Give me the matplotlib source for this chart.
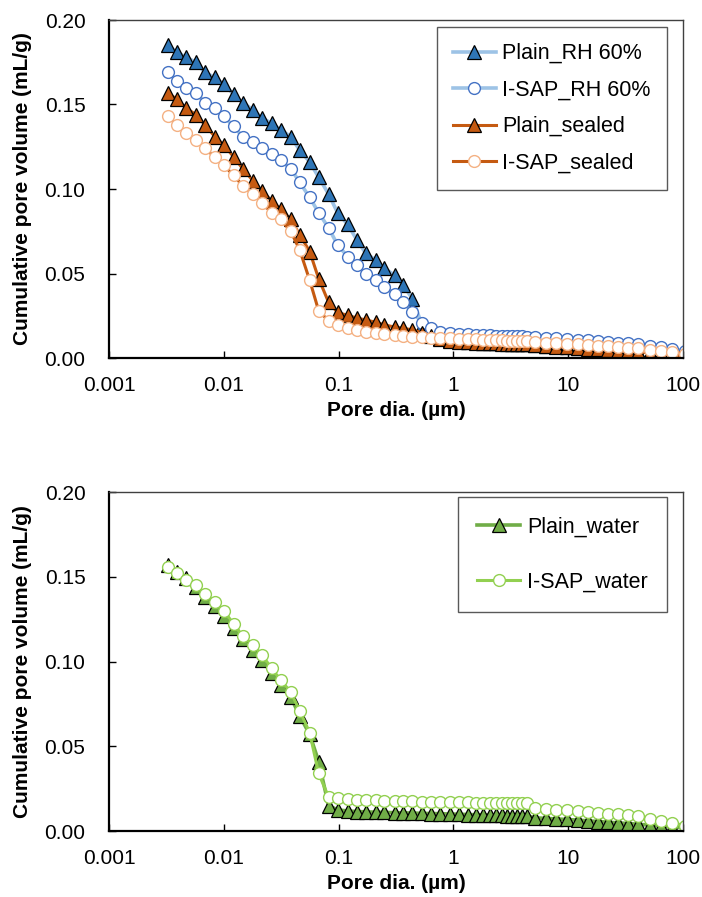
import matplotlib
matplotlib.use("Agg")
import matplotlib.pyplot as plt
from matplotlib.ticker import FixedLocator, FixedFormatter, NullLocator

plt.rcParams['font.family'] = ['Liberation Sans', 'DejaVu Sans']

# ---------------- data ----------------
pore_dia = [0.00326, 0.0039, 0.00468, 0.00572, 0.00684, 0.00836, 0.0100, 0.0122, 0.0146, 0.0179,
            0.0214, 0.0261, 0.0313, 0.0383, 0.0458, 0.0560, 0.0670, 0.0818, 0.0979, 0.120,
            0.144, 0.172, 0.210, 0.251, 0.307, 0.367, 0.440, 0.537, 0.644, 0.771,
            0.942, 1.13, 1.35, 1.58, 1.82, 2.10, 2.37, 2.67, 2.95, 3.26,
            3.60, 3.98, 4.40, 5.16, 6.44, 7.87, 9.80, 12.2, 14.9, 18.2,
            22.3, 27.2, 33.3, 40.6, 51.6, 64.4, 80.2, 105]

plain_rh60 = [0.185, 0.181, 0.178, 0.175, 0.169, 0.166, 0.162, 0.156, 0.151, 0.147,
              0.142, 0.139, 0.135, 0.131, 0.123, 0.116, 0.107, 0.097, 0.086, 0.079,
              0.070, 0.062, 0.058, 0.053, 0.049, 0.043, 0.035, 0.019, 0.0145, 0.012,
              0.0105, 0.0098, 0.0094, 0.0092, 0.0090, 0.0089, 0.0088, 0.0087, 0.0086, 0.0085,
              0.0084, 0.0083, 0.0082, 0.0076, 0.0072, 0.0069, 0.0066, 0.0062, 0.0058, 0.0054,
              0.0050, 0.0046, 0.0042, 0.0038, 0.0032, 0.0026, 0.0020, 0.0014]

isap_rh60 = [0.169, 0.164, 0.160, 0.157, 0.151, 0.148, 0.143, 0.137, 0.131, 0.128,
             0.124, 0.121, 0.117, 0.112, 0.104, 0.095, 0.086, 0.077, 0.067, 0.060,
             0.055, 0.050, 0.046, 0.042, 0.038, 0.033, 0.027, 0.021, 0.018, 0.0155,
             0.0148, 0.0142, 0.0140, 0.0138, 0.0136, 0.0134, 0.0133, 0.0132, 0.0131, 0.0130,
             0.0129, 0.0128, 0.0127, 0.0124, 0.0120, 0.0116, 0.0112, 0.0108, 0.0104, 0.0100,
             0.0096, 0.0091, 0.0086, 0.0081, 0.0072, 0.0063, 0.0055, 0.0040]

plain_sealed = [0.157, 0.153, 0.148, 0.144, 0.138, 0.131, 0.126, 0.119, 0.112, 0.105,
                0.099, 0.093, 0.088, 0.082, 0.073, 0.063, 0.047, 0.033, 0.027, 0.0252,
                0.0237, 0.0225, 0.0212, 0.0196, 0.0183, 0.0176, 0.0166, 0.0150, 0.0130, 0.0115,
                0.0100, 0.0095, 0.0092, 0.0090, 0.0088, 0.0087, 0.0086, 0.0085, 0.0084, 0.0083,
                0.0082, 0.0081, 0.0080, 0.0074, 0.0070, 0.0067, 0.0064, 0.0060, 0.0056, 0.0052,
                0.0048, 0.0044, 0.0040, 0.0036, 0.0030, 0.0024, 0.0018, 0.0012]

isap_sealed = [0.143, 0.138, 0.133, 0.129, 0.124, 0.119, 0.114, 0.108, 0.102, 0.097,
               0.092, 0.086, 0.082, 0.075, 0.064, 0.046, 0.028, 0.022, 0.0195, 0.0178,
               0.0166, 0.0155, 0.0148, 0.0140, 0.0135, 0.0130, 0.0125, 0.0122, 0.0120, 0.0118,
               0.0116, 0.0114, 0.0112, 0.0110, 0.0108, 0.0106, 0.0105, 0.0104, 0.0103, 0.0102,
               0.0101, 0.0100, 0.0099, 0.0095, 0.0091, 0.0088, 0.0085, 0.0081, 0.0077, 0.0073,
               0.0070, 0.0066, 0.0062, 0.0058, 0.0050, 0.0043, 0.0037, 0.0025]

plain_water = [0.157, 0.153, 0.149, 0.144, 0.138, 0.133, 0.127, 0.120, 0.113, 0.107,
               0.101, 0.093, 0.086, 0.079, 0.068, 0.057, 0.041, 0.015, 0.0125, 0.0118,
               0.0115, 0.0113, 0.0111, 0.0110, 0.0108, 0.0107, 0.0106, 0.0104, 0.0103, 0.0102,
               0.0100, 0.0099, 0.0097, 0.0096, 0.0095, 0.0094, 0.0093, 0.0092, 0.0091, 0.0090,
               0.0089, 0.0088, 0.0088, 0.0078, 0.0074, 0.0071, 0.0068, 0.0064, 0.0060, 0.0056,
               0.0052, 0.0048, 0.0044, 0.0040, 0.0034, 0.0029, 0.0024, 0.0018]

isap_water = [0.156, 0.152, 0.148, 0.145, 0.140, 0.135, 0.130, 0.122, 0.115, 0.110,
              0.104, 0.096, 0.089, 0.082, 0.071, 0.058, 0.034, 0.020, 0.0192, 0.0187,
              0.0184, 0.0182, 0.0180, 0.0178, 0.0177, 0.0176, 0.0175, 0.0174, 0.0173, 0.0172,
              0.0171, 0.0170, 0.0169, 0.0168, 0.0167, 0.0167, 0.0166, 0.0166, 0.0165, 0.0165,
              0.0164, 0.0164, 0.0163, 0.0135, 0.0128, 0.0125, 0.0122, 0.0117, 0.0112, 0.0108,
              0.0103, 0.0098, 0.0093, 0.0088, 0.0072, 0.0060, 0.0050, 0.0030]

x_ticks = [0.001, 0.01, 0.1, 1, 10, 100]
x_ticklabels = ["0.001", "0.01", "0.1", "1", "10", "100"]
y_ticks = [0.00, 0.05, 0.10, 0.15, 0.20]
y_ticklabels = ["0.00", "0.05", "0.10", "0.15", "0.20"]

# ---------------- figure ----------------
W, H = 702, 897
fig = plt.figure(figsize=(W / 100, H / 100), dpi=100)

def axes_px(left, top, right, bottom):
    return fig.add_axes([left / W, 1 - bottom / H, (right - left) / W, (bottom - top) / H])

ax1 = axes_px(109, 20, 683, 358)
ax2 = axes_px(109, 492, 683, 831)

FS = 15

def style(ax):
    ax.set_xscale('log')
    ax.set_xlim(0.001, 100)
    ax.set_ylim(0, 0.20)
    ax.xaxis.set_major_locator(FixedLocator(x_ticks))
    ax.xaxis.set_major_formatter(FixedFormatter(x_ticklabels))
    ax.xaxis.set_minor_locator(NullLocator())
    ax.yaxis.set_major_locator(FixedLocator(y_ticks))
    ax.yaxis.set_major_formatter(FixedFormatter(y_ticklabels))
    ax.tick_params(axis='both', direction='in', length=5, width=1.0, labelsize=FS,
                   colors='black')
    ax.tick_params(axis='x', pad=13)
    ax.tick_params(axis='y', pad=17)
    for s in ['left', 'bottom']:
        ax.spines[s].set_linewidth(1.6)
        ax.spines[s].set_color('black')
    for s in ['top', 'right']:
        ax.spines[s].set_linewidth(1.0)
        ax.spines[s].set_color('#404040')
    ax.set_xlabel('Pore dia. (µm)', fontsize=FS, fontweight='bold', labelpad=4)
    ax.set_ylabel('Cumulative pore volume (mL/g)', fontsize=FS, fontweight='bold', labelpad=9)

tri_kw = dict(marker='^', markersize=10, markeredgecolor='black', markeredgewidth=0.9)
cir_kw = dict(marker='o', markersize=8.5, markerfacecolor='white', markeredgewidth=1.0)

ax1.plot(pore_dia, plain_rh60, color='#9DC3E6', linewidth=2.6,
         markerfacecolor='#2E75B6', label='Plain_RH 60%', **tri_kw)
ax1.plot(pore_dia, isap_rh60, color='#9DC3E6', linewidth=2.6,
         markeredgecolor='#4472C4', label='I-SAP_RH 60%', **cir_kw)
ax1.plot(pore_dia, plain_sealed, color='#C55A11', linewidth=2.2,
         markerfacecolor='#C55A11', label='Plain_sealed', **tri_kw)
ax1.plot(pore_dia, isap_sealed, color='#C55A11', linewidth=2.2,
         markeredgecolor='#F4B183', label='I-SAP_sealed', **cir_kw)

ax2.plot(pore_dia, plain_water, color='#70AD47', linewidth=2.6,
         markerfacecolor='#70AD47', label='Plain_water', **tri_kw)
ax2.plot(pore_dia, isap_water, color='#92D050', linewidth=2.2,
         markeredgecolor='#92D050', label='I-SAP_water', **cir_kw)

for ax in (ax1, ax2):
    style(ax)

leg1 = ax1.legend(loc='upper right', bbox_to_anchor=((667 - 109) / 574, (358 - 27) / 338),
                  borderaxespad=0, fontsize=FS + 0.5, frameon=True, fancybox=False,
                  edgecolor='#303030', handlelength=2.0, handletextpad=0.3,
                  labelspacing=0.72, borderpad=0.75)
leg1.get_frame().set_linewidth(1.0)

leg2 = ax2.legend(loc='upper right', bbox_to_anchor=((667 - 109) / 574, (831 - 497) / 339),
                  borderaxespad=0, fontsize=FS + 0.5, frameon=True, fancybox=False,
                  edgecolor='#303030', handlelength=2.0, handletextpad=0.3,
                  labelspacing=1.6, borderpad=0.9)
leg2.get_frame().set_linewidth(1.0)

fig.savefig('out.png', dpi=100)
